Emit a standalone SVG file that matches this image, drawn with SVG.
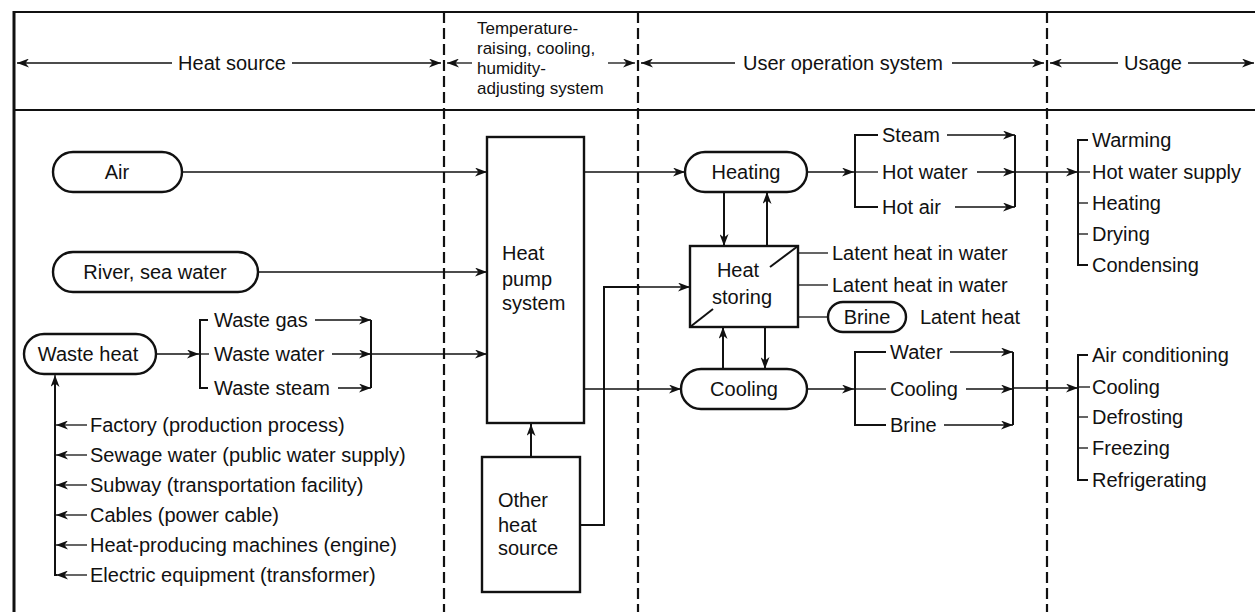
<svg xmlns="http://www.w3.org/2000/svg" width="1255" height="612" viewBox="0 0 1255 612">
<style>
text{font-family:"Liberation Sans",Arial,sans-serif;fill:#111;}
.t{font-size:20px;}
.h{font-size:20px;}
.s{font-size:17px;}
.m{text-anchor:middle;}
.box{fill:#fff;stroke:#111;stroke-width:2.4;}
.ln{fill:none;stroke:#111;stroke-width:1.3;}
.br{fill:none;stroke:#111;stroke-width:2;}
.fr{fill:none;stroke:#111;stroke-width:1.8;}
.dash{fill:none;stroke:#111;stroke-width:2.2;stroke-dasharray:11 5;}
.a{marker-end:url(#ah);}
</style>
<defs>
<marker id="ah" markerUnits="userSpaceOnUse" markerWidth="13" markerHeight="9" refX="12" refY="4.5" orient="auto">
<path d="M0,0 L12,4.5 L0,9 L3.5,4.5 z" fill="#111"/>
</marker>
</defs>
<rect width="1255" height="612" fill="#fff"/>
<g id="frame">
<line class="fr" x1="14" y1="12" x2="1255" y2="12"/>
<line class="fr" x1="14" y1="110" x2="1255" y2="110"/>
<line x1="14" y1="11" x2="14" y2="612" stroke="#111" stroke-width="3"/>
<line class="dash" x1="444" y1="12" x2="444" y2="612"/>
<line class="dash" x1="638" y1="12" x2="638" y2="612"/>
<line class="dash" x1="1047" y1="12" x2="1047" y2="612"/>
</g>
<g id="header-labels">
<text class="h m" x="232" y="70">Heat source</text>
<text class="s" x="477" y="34">Temperature-</text>
<text class="s" x="477" y="54">raising, cooling,</text>
<text class="s" x="477" y="74">humidity-</text>
<text class="s" x="477" y="94">adjusting system</text>
<text class="h m" x="843" y="70">User operation system</text>
<text class="h m" x="1153" y="70">Usage</text>
</g>
<g id="connectors">
<!-- header arrows -->
<line class="ln a" x1="172" y1="63" x2="17" y2="63"/>
<line class="ln a" x1="292" y1="63" x2="441" y2="63"/>
<line class="ln a" x1="472" y1="63" x2="447" y2="63"/>
<line class="ln a" x1="608" y1="63" x2="635" y2="63"/>
<line class="ln a" x1="735" y1="63" x2="641" y2="63"/>
<line class="ln a" x1="952" y1="63" x2="1044" y2="63"/>
<line class="ln a" x1="1118" y1="63" x2="1050" y2="63"/>
<line class="ln a" x1="1188" y1="63" x2="1254" y2="63"/>
<!-- sources to heat pump -->
<line class="ln a" x1="182" y1="172" x2="487" y2="172"/>
<line class="ln a" x1="258" y1="272" x2="487" y2="272"/>
<line class="ln a" x1="156" y1="354" x2="199" y2="354"/>
<polyline class="br" points="208,320 200,320 200,388 208,388"/>
<line class="ln" x1="200" y1="354" x2="209" y2="354"/>
<line class="ln a" x1="315" y1="320" x2="371" y2="320"/>
<line class="ln a" x1="332" y1="354" x2="371" y2="354"/>
<line class="ln a" x1="338" y1="388" x2="371" y2="388"/>
<line class="br" x1="371" y1="320" x2="371" y2="388"/>
<line class="ln a" x1="371" y1="354" x2="487" y2="354"/>
<!-- waste heat origins -->
<polyline class="br" points="57,575 55,575 55,378"/>
<line class="ln a" x1="55" y1="392" x2="55" y2="375"/>
<line class="ln a" x1="87" y1="425" x2="56" y2="425"/>
<line class="ln a" x1="87" y1="455" x2="56" y2="455"/>
<line class="ln a" x1="87" y1="485" x2="56" y2="485"/>
<line class="ln a" x1="87" y1="515" x2="56" y2="515"/>
<line class="ln a" x1="87" y1="545" x2="56" y2="545"/>
<line class="ln a" x1="87" y1="575" x2="56" y2="575"/>
<!-- other heat source -->
<line class="br a" x1="531" y1="457" x2="531" y2="424"/>
<polyline class="br" points="580,525 604,525 604,287 640,287"/>
<line class="ln a" x1="604" y1="287" x2="690" y2="287"/>
<!-- heat pump outputs -->
<line class="ln a" x1="584" y1="172" x2="685" y2="172"/>
<line class="ln a" x1="584" y1="389" x2="681" y2="389"/>
<!-- heating/storing/cooling -->
<line class="br a" x1="724" y1="192" x2="724" y2="246"/>
<line class="br a" x1="767" y1="246" x2="767" y2="192"/>
<line class="br a" x1="723" y1="369" x2="723" y2="327"/>
<line class="br a" x1="765" y1="327" x2="765" y2="369"/>
<line class="ln" x1="798" y1="253" x2="828" y2="253"/>
<line class="ln" x1="798" y1="285" x2="828" y2="285"/>
<line class="ln" x1="798" y1="317" x2="828" y2="317"/>
<!-- heating outputs -->
<line class="ln a" x1="807" y1="172" x2="854" y2="172"/>
<polyline class="br" points="878,135 855,135 855,207 878,207"/>
<line class="ln" x1="855" y1="172" x2="878" y2="172"/>
<line class="ln a" x1="947" y1="135" x2="1015" y2="135"/>
<line class="ln a" x1="977" y1="172" x2="1015" y2="172"/>
<line class="ln a" x1="955" y1="207" x2="1015" y2="207"/>
<line class="br" x1="1015" y1="135" x2="1015" y2="207"/>
<line class="ln a" x1="1015" y1="172" x2="1078" y2="172"/>
<polyline class="br" points="1088,140 1078,140 1078,265 1088,265"/>
<line class="ln" x1="1078" y1="172" x2="1090" y2="172"/>
<line class="ln" x1="1078" y1="203" x2="1088" y2="203"/>
<line class="ln" x1="1078" y1="234" x2="1088" y2="234"/>
<!-- cooling outputs -->
<line class="ln a" x1="807" y1="389" x2="854" y2="389"/>
<polyline class="br" points="886,352 855,352 855,425 886,425"/>
<line class="ln" x1="855" y1="389" x2="886" y2="389"/>
<line class="ln a" x1="950" y1="352" x2="1013" y2="352"/>
<line class="ln a" x1="966" y1="389" x2="1013" y2="389"/>
<line class="ln a" x1="944" y1="425" x2="1013" y2="425"/>
<line class="br" x1="1013" y1="352" x2="1013" y2="425"/>
<line class="ln a" x1="1013" y1="388" x2="1078" y2="388"/>
<polyline class="br" points="1088,355 1078,355 1078,480 1088,480"/>
<line class="ln" x1="1078" y1="387" x2="1090" y2="387"/>
<line class="ln" x1="1078" y1="417" x2="1088" y2="417"/>
<line class="ln" x1="1078" y1="448" x2="1088" y2="448"/>
</g>
<g id="air"><rect class="box" x="53" y="152" width="129" height="40" rx="20"/><text class="t m" x="117" y="179">Air</text></g>
<g id="river"><rect class="box" x="53" y="252" width="205" height="40" rx="20"/><text class="t m" x="155" y="279">River, sea water</text></g>
<g id="waste-heat"><rect class="box" x="24" y="334" width="132" height="40" rx="20"/><text class="t m" x="88" y="361">Waste heat</text></g>
<g id="waste-kinds">
<text class="t" x="214" y="327">Waste gas</text>
<text class="t" x="214" y="361">Waste water</text>
<text class="t" x="214" y="395">Waste steam</text>
</g>
<g id="waste-origins">
<text class="t" x="90" y="432">Factory (production process)</text>
<text class="t" x="90" y="462">Sewage water (public water supply)</text>
<text class="t" x="90" y="492">Subway (transportation facility)</text>
<text class="t" x="90" y="522">Cables (power cable)</text>
<text class="t" x="90" y="552">Heat-producing machines (engine)</text>
<text class="t" x="90" y="582">Electric equipment (transformer)</text>
</g>
<g id="heat-pump"><rect class="box" x="487" y="137" width="97" height="286"/>
<text class="t" x="502" y="260">Heat</text><text class="t" x="502" y="286">pump</text><text class="t" x="502" y="310">system</text></g>
<g id="other-source"><rect class="box" x="482" y="457" width="98" height="135"/>
<text class="t" x="498" y="507">Other</text><text class="t" x="498" y="532">heat</text><text class="t" x="498" y="555">source</text></g>
<g id="heating"><rect class="box" x="685" y="152" width="122" height="40" rx="20"/><text class="t m" x="746" y="179">Heating</text></g>
<g id="heat-storing"><rect class="box" x="690" y="246" width="108" height="81"/>
<line class="br" x1="798" y1="246" x2="770" y2="267"/><line class="br" x1="690" y1="327" x2="713" y2="309"/>
<text class="t m" x="738" y="277">Heat</text><text class="t m" x="742" y="304">storing</text></g>
<g id="cooling"><rect class="box" x="681" y="369" width="126" height="40" rx="20"/><text class="t m" x="744" y="396">Cooling</text></g>
<g id="storage-media">
<text class="t" x="832" y="260">Latent heat in water</text>
<text class="t" x="832" y="292">Latent heat in water</text>
<rect class="box" x="828" y="302" width="78" height="30" rx="15"/><text class="t m" x="867" y="324">Brine</text>
<text class="t" x="920" y="324">Latent heat</text>
</g>
<g id="heating-media">
<text class="t" x="882" y="142">Steam</text>
<text class="t" x="882" y="179">Hot water</text>
<text class="t" x="882" y="214">Hot air</text>
</g>
<g id="cooling-media">
<text class="t" x="890" y="359">Water</text>
<text class="t" x="890" y="396">Cooling</text>
<text class="t" x="890" y="432">Brine</text>
</g>
<g id="heating-usage">
<text class="t" x="1092" y="147">Warming</text>
<text class="t" x="1092" y="179">Hot water supply</text>
<text class="t" x="1092" y="210">Heating</text>
<text class="t" x="1092" y="241">Drying</text>
<text class="t" x="1092" y="272">Condensing</text>
</g>
<g id="cooling-usage">
<text class="t" x="1092" y="362">Air conditioning</text>
<text class="t" x="1092" y="394">Cooling</text>
<text class="t" x="1092" y="424">Defrosting</text>
<text class="t" x="1092" y="455">Freezing</text>
<text class="t" x="1092" y="487">Refrigerating</text>
</g>
</svg>
